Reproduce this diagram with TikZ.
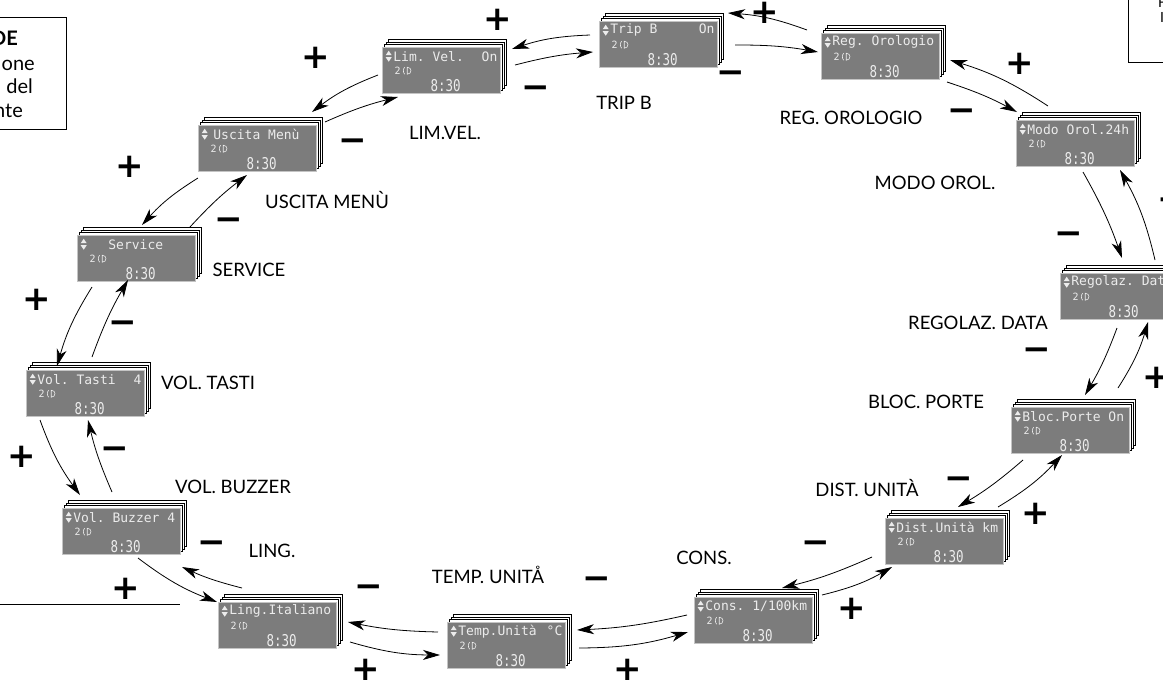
\documentclass[tikz,border=0pt]{standalone}
\usepackage{fontspec}
\setmainfont{Lato}
\newfontfamily\lcdfont{DejaVu Sans Mono}
\newfontfamily\pmfont{DejaVu Sans}
\usetikzlibrary{arrows.meta,calc}
\definecolor{lcdgray}{RGB}{124,124,124}
\definecolor{lcdtext}{RGB}{236,236,236}
\frenchspacing
\tikzset{
  sheet/.style={draw=black,fill=white,line width=0.9pt,minimum width=118pt,minimum height=46pt,inner sep=0pt},
  lcd/.style={draw=lcdgray!45!white,fill=lcdgray,line width=0.6pt,minimum width=118pt,minimum height=46pt,inner sep=0pt},
  lcdline/.style={font=\lcdfont\fontsize{13}{13}\selectfont,text=lcdtext,inner sep=0pt,anchor=west},
  lcdsmall/.style={font=\lcdfont\fontsize{10}{10}\selectfont,text=lcdtext,inner sep=0pt},
  lcdbig/.style={font=\lcdfont\fontsize{12.5}{13}\selectfont,text=lcdtext,inner sep=0pt},
  lbl/.style={font=\fontsize{18.5}{20}\selectfont,inner sep=0pt},
  legtext/.style={font=\fontsize{20}{22}\selectfont,inner sep=0pt,anchor=base east},
  pm/.style={font=\pmfont\bfseries\fontsize{34}{34}\selectfont,inner sep=0pt},
  arr/.style={line width=0.8pt,-{Stealth[length=17pt,width=10pt,inset=5pt]}},
  cw/.style={arr,bend left=5},
  ccw/.style={arr,bend right=8},
}
\newcommand\lcdunit[3]{%
  \coordinate (#1-c) at (#2);
  \foreach \k in {3,2,1}{\node[sheet] at ([shift={(2*\k,-2.5*\k)}]#1-c) {};}
  \node[lcd] (#1) at (#1-c) {};
  \fill[lcdtext] ([shift={(4,8.5)}]#1.north west) -- ++(6,0) -- ++(-3,-4.5) -- cycle;
  \fill[lcdtext] ([shift={(4,10.5)}]#1.north west) -- ++(6,0) -- ++(-3,4.5) -- cycle;
  \node[lcdline] (#1-l1) at ([shift={(11.5,9.5)}]#1.north west) {\makebox[104pt][l]{#3}};
  \node[lcdsmall] (#1-l2) at ([shift={(16,24)}]#1.north west) {2};
  \draw[lcdtext,line width=0.6pt] ([shift={(23,20.5)}]#1.north west) .. controls +(-1.8,1.5) and +(-1.8,-1.5) .. ([shift={(23,27.5)}]#1.north west);
  \draw[lcdtext,line width=0.6pt] ([shift={(25.5,20.5)}]#1.north west) -- ([shift={(25.5,27.5)}]#1.north west) .. controls +(5,0) and +(5,0) .. cycle;
  \node[lcdbig] (#1-l3) at ([shift={(64,39)}]#1.north west) {\scalebox{1}[1.3]{8:30}};
}
\begin{document}
\begin{tikzpicture}[x=1pt,y=-1pt]
\useasboundingbox (0,0) rectangle (1163,686);
\clip (0,0) rectangle (1163,686);
\fill[white] (0,0) rectangle (1163,686);

% legend fragments
\draw[line width=1pt] (-10,17) rectangle (66,129);
\node[legtext] (lg1) at (18,45) {\bfseries DE};
\node[legtext] (lg2) at (35,70) {one};
\node[legtext] (lg3) at (33,93) {del};
\node[legtext] (lg4) at (23,117) {nte};
\draw[line width=1pt] (1128,-5) -- (1128,62) -- (1175,62);
\node[font=\fontsize{14}{14}\selectfont,inner sep=0pt,anchor=north west] (rg1) at (1158,-3) {F};
\node[font=\fontsize{14}{14}\selectfont,inner sep=0pt,anchor=north west] (rg2) at (1160,12) {I};
\draw[line width=1pt] (0,604) -- (180,604);

% displays
\lcdunit{limvel}{441,70}{Lim. Vel.\hfill On}
\lcdunit{tripb}{658,44}{Trip B\hfill On}
\lcdunit{regorol}{880,56}{Reg. Orologio}
\lcdunit{modo}{1075,143}{Modo Orol.24h}
\lcdunit{regolaz}{1119,296}{Regolaz. Data}
\lcdunit{bloc}{1070,430}{Bloc.Porte On}
\lcdunit{dist}{944,541}{Dist.Unità km}
\lcdunit{cons}{753,620}{Cons. 1/100km}
\lcdunit{temp}{506,645}{Temp.Unità\hfill °C}
\lcdunit{ling}{277,625}{Ling.Italiano}
\lcdunit{buzzer}{121,531}{Vol. Buzzer 4}
\lcdunit{tasti}{85,393}{Vol. Tasti\hfill 4}
\lcdunit{service}{136,258}{\hspace{20pt}Service}
\lcdunit{uscita}{257,148}{\hspace{4pt}Uscita Menù}

% labels
\node[lbl] (t-tripb) at (624,103) {TRIP B};
\node[lbl] (t-limvel) at (445,133) {LIM.VEL.};
\node[lbl] (t-regorol) at (851,118) {REG. OROLOGIO};
\node[lbl] (t-modo) at (935,183) {MODO OROL.};
\node[lbl] (t-regolaz) at (978,323) {REGOLAZ. DATA};
\node[lbl] (t-bloc) at (926,402) {BLOC. PORTE};
\node[lbl] (t-dist) at (867,488) {DIST. UNITÀ};
\node[lbl] (t-cons) at (704,558) {CONS.};
\node[lbl] (t-temp) at (488,575) {TEMP. UNITÅ};
\node[lbl] (t-ling) at (272,551) {LING.};
\node[lbl] (t-buzzer) at (233,487) {VOL. BUZZER};
\node[lbl] (t-tasti) at (208,383) {VOL. TASTI};
\node[lbl] (t-service) at (249,270) {SERVICE};
\node[lbl] (t-uscita) at (327,200) {USCITA MENÙ};

% arrows
\draw[cw]  ([shift={(74,-5)}]limvel.center) to ([shift={(-65,8)}]tripb.center);
\draw[ccw] ([shift={(-68,-9)}]tripb.center) to ([shift={(71,-21)}]limvel.center);
\draw[cw]  ([shift={(77,1)}]tripb.center) to ([shift={(-62,-4)}]regorol.center);
\draw[ccw] ([shift={(-73,-26)}]regorol.center) to ([shift={(70,-31)}]tripb.center);
\draw[cw]  ([shift={(67,26)}]regorol.center) to ([shift={(-58,-31)}]modo.center);
\draw[ccw] ([shift={(-27,-37)}]modo.center) to ([shift={(70,4)}]regorol.center);
\draw[cw]  ([shift={(8,29)}]modo.center) to ([shift={(3,-38)}]regolaz.center);
\draw[ccw] ([shift={(36,-36)}]regolaz.center) to ([shift={(45,27)}]modo.center);
\draw[cw]  ([shift={(-2,32)}]regolaz.center) to ([shift={(15,-35)}]bloc.center);
\draw[ccw] ([shift={(48,-42)}]bloc.center) to ([shift={(29,26)}]regolaz.center);
\draw[cw]  ([shift={(-47,30)}]bloc.center) to ([shift={(14,-34)}]dist.center);
\draw[ccw] ([shift={(54,-34)}]dist.center) to ([shift={(-8,25)}]bloc.center);
\draw[cw]  ([shift={(-72,16)}]dist.center) to ([shift={(29,-32)}]cons.center);
\draw[ccw] ([shift={(69,-25)}]cons.center) to ([shift={(-52,26)}]dist.center);
\draw[cw]  ([shift={(-66,-5)}]cons.center) to ([shift={(71,-15)}]temp.center);
\draw[ccw] ([shift={(73,3)}]temp.center) to ([shift={(-65,12)}]cons.center);
\draw[cw]  ([shift={(-68,-13)}]temp.center) to ([shift={(71,-3)}]ling.center);
\draw[ccw] ([shift={(73,17)}]ling.center) to ([shift={(-66,10)}]temp.center);
\draw[cw]  ([shift={(-35,-37)}]ling.center) to ([shift={(61,36)}]buzzer.center);
\draw[ccw] ([shift={(17,27)}]buzzer.center) to ([shift={(-60,-23)}]ling.center);
\draw[cw]  ([shift={(-9,-39)}]buzzer.center) to ([shift={(3,27)}]tasti.center);
\draw[ccw] ([shift={(-45,27)}]tasti.center) to ([shift={(-41,-36)}]buzzer.center);
\draw[cw]  ([shift={(7,-36)}]tasti.center) to ([shift={(-8,22)}]service.center);
\draw[ccw] ([shift={(-44,29)}]service.center) to ([shift={(-28,-27)}]tasti.center);
\draw[cw]  ([shift={(54,-31)}]service.center) to ([shift={(-10,27)}]uscita.center);
\draw[ccw] ([shift={(-59,30)}]uscita.center) to ([shift={(6,-33)}]service.center);
\draw[cw]  ([shift={(68,-26)}]uscita.center) to ([shift={(-43,27)}]limvel.center);
\draw[ccw] ([shift={(-63,5)}]limvel.center) to ([shift={(55,-36)}]uscita.center);

% plus / minus
\node[pm] (p1) at (498,20) {+};
\node[pm] (p2) at (765,13) {+};
\node[pm] (p3) at (1020,64) {+};
\node[pm] (p4) at (316,58) {+};
\node[pm] (p5) at (130,167) {+};
\node[pm] (p6) at (37,300) {+};
\node[pm] (p7) at (22,457) {+};
\node[pm] (p8) at (126,589) {+};
\node[pm] (p9) at (366,670) {+};
\node[pm] (p10) at (628,670) {+};
\node[pm] (p11) at (852,609) {+};
\node[pm] (p12) at (1036,514) {+};
\node[pm] (p13) at (1157,378) {+};
\node[pm] (p14) at (1172,200) {+};
\node[pm] (m1) at (536,92) {−};
\node[pm] (m2) at (731,77) {−};
\node[pm] (m3) at (962,115) {−};
\node[pm] (m4) at (353,145) {−};
\node[pm] (m5) at (229,224) {−};
\node[pm] (m6) at (123,327) {−};
\node[pm] (m7) at (115,453) {−};
\node[pm] (m8) at (212,547) {−};
\node[pm] (m9) at (369,591) {−};
\node[pm] (m10) at (597,583) {−};
\node[pm] (m11) at (816,547) {−};
\node[pm] (m12) at (959,483) {−};
\node[pm] (m13) at (1037,354) {−};
\node[pm] (m14) at (1069,238) {−};
\end{tikzpicture}
\end{document}
